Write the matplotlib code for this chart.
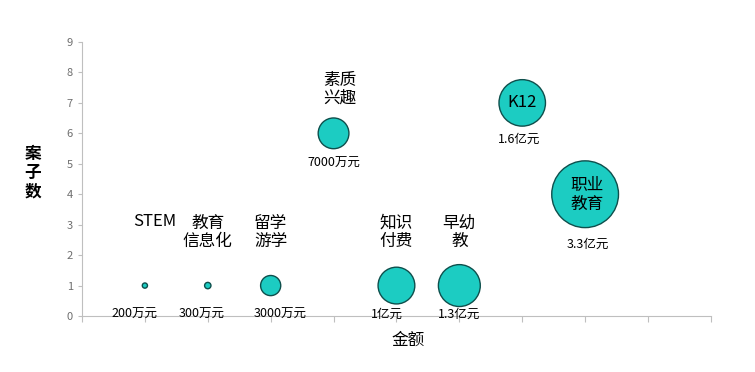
import matplotlib.pyplot as plt

plt.rcParams['font.family'] = ['Noto Sans CJK SC', 'DejaVu Sans']

# --- data ---
categories = ['STEM', '教育\n信息化', '留学\n游学', '素质\n兴趣', '知识\n付费', '早幼\n教', 'K12', '职业\n教育']
x_pos = [1, 2, 3, 4, 5, 6, 7, 8]
case_counts = [1, 1, 1, 6, 1, 1, 7, 4]
amount_yi = [0.02, 0.03, 0.3, 0.7, 1.0, 1.3, 1.6, 3.3]   # 金额, 亿元
amount_labels = ['200万元', '300万元', '3000万元', '7000万元', '1亿元', '1.3亿元', '1.6亿元', '3.3亿元']

# --- layout (label placement, data coords) ---
name_xy = [(1.15, 3.1), (2.0, 2.75), (3.0, 2.75), (4.1, 7.45), (5.0, 2.75), (6.0, 2.75), (7.0, 7.0), (8.03, 3.97)]
amount_xy = [(0.83, 0.07), (1.9, 0.07), (3.15, 0.07), (4.0, 5.03), (4.85, 0.07), (6.0, 0.07), (6.95, 5.81), (8.05, 2.37)]

fig = plt.figure(figsize=(7.55, 3.72), dpi=100)
ax = fig.add_axes([0.1086, 0.1505, 0.833, 0.7366])

ax.scatter(x_pos, case_counts, s=[v * 700 for v in amount_yi],
           color='#1CCCC2', edgecolor='#0E4F4C', linewidth=1.0, zorder=3, clip_on=False)

for name, (tx, ty) in zip(categories, name_xy):
    ax.text(tx, ty, name, ha='center', va='center', fontsize=12, linespacing=1.1, zorder=4)
for lab, (tx, ty) in zip(amount_labels, amount_xy):
    ax.text(tx, ty, lab, ha='center', va='center', fontsize=9, zorder=4)

ax.set_xlim(0, 10)
ax.set_ylim(0, 9)
ax.set_xticks(range(0, 11))
ax.set_xticklabels([])
ax.set_yticks(range(0, 10))
ax.tick_params(axis='y', colors='#BFBFBF', labelcolor='#6E6E6E', labelsize=8, length=3)
ax.tick_params(axis='x', colors='#BFBFBF', length=4)
for s in ['top', 'right']:
    ax.spines[s].set_visible(False)
for s in ['left', 'bottom']:
    ax.spines[s].set_color('#BFBFBF')

fig.text(408 / 755, 1 - 340 / 372, '金额', ha='center', va='center', fontsize=12)
fig.text(33 / 755, 1 - 173 / 372, '案\n子\n数', ha='center', va='center', fontsize=12,
         fontweight='bold', linespacing=1.05)

fig.savefig('out.png', dpi=100)
